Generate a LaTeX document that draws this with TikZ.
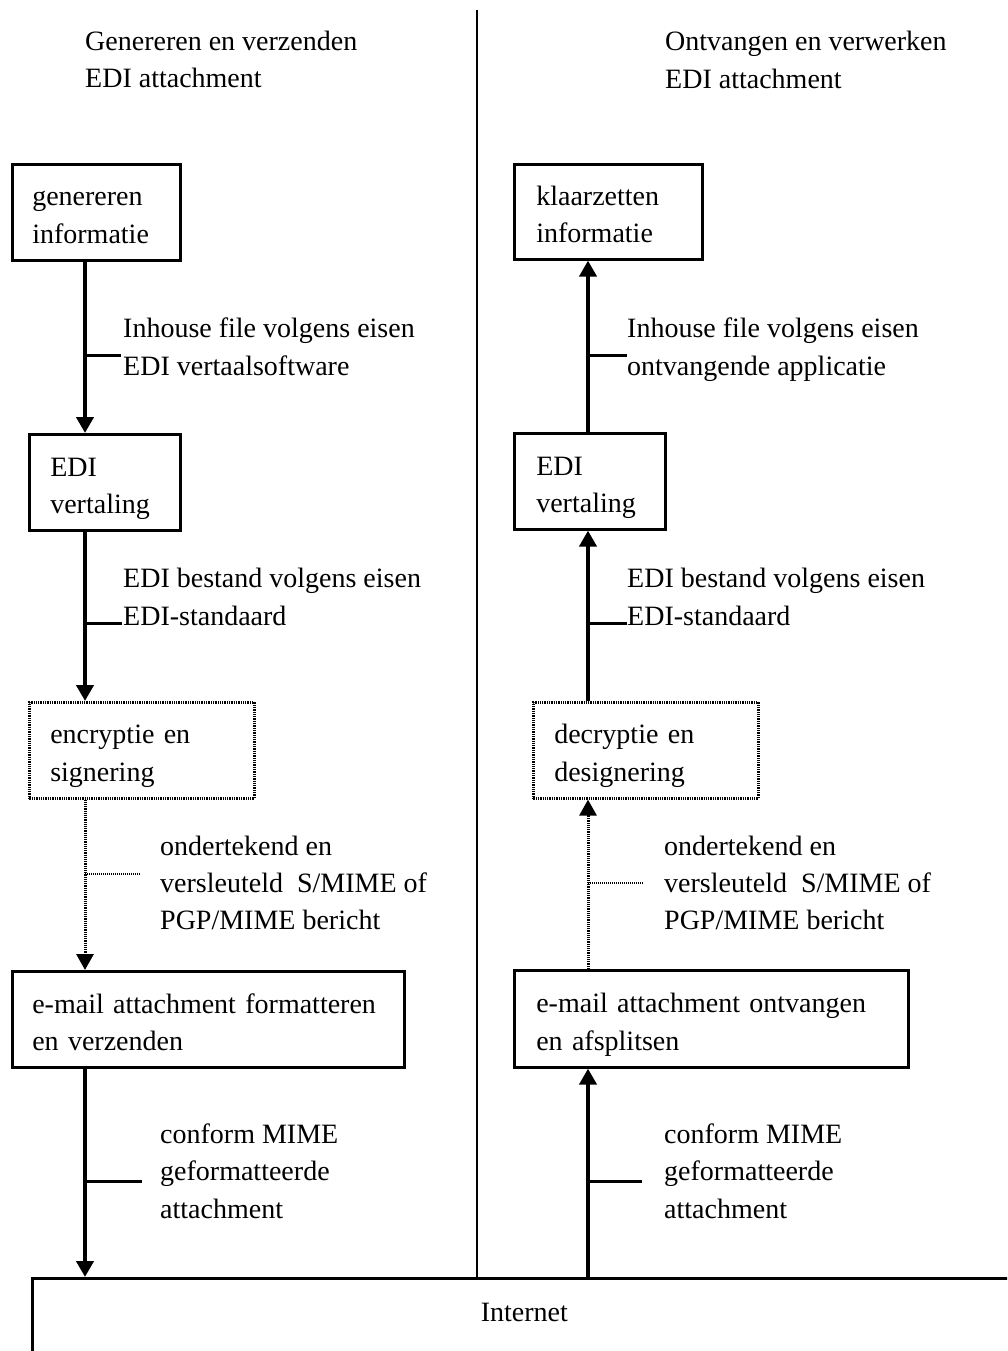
\documentclass[tikz,border=0pt]{standalone}
\usepackage{fontspec}
\setmainfont{Liberation Serif}
\usetikzlibrary{arrows.meta}
% one text line: 31pt above the baseline, 6pt below
\newcommand\lstrut{\rule[-6pt]{0pt}{37pt}}
\tikzset{
  txtfont/.style={font=\fontsize{28pt}{37pt}\selectfont},
  txt/.style={txtfont, inner sep=0pt, align=left, anchor=north west},
  stepbox/.style={txtfont, draw, line width=2.6pt, align=left, anchor=north west,
    inner ysep=0pt, minimum height=96pt},
  dotbox/.style={stepbox, dash pattern=on 1.3pt off 1pt},
  flow/.style={line width=4pt, -{Triangle[width=17pt,length=16pt]}},
  dotflow/.style={line width=3pt, dash pattern=on 1.2pt off 1pt,
    -{Triangle[width=17pt,length=16pt]}},
  leader/.style={line width=3pt},
  dotleader/.style={line width=2pt, dash pattern=on 1pt off 1pt},
}
\begin{document}
\begin{tikzpicture}[x=1pt,y=-1pt]
\useasboundingbox (0,0) rectangle (1007,1351);
\clip (0,0) rectangle (1007,1351);

% column axes of the flow lines and the divider
\coordinate (colL) at (85,0);
\coordinate (colR) at (588,0);
\coordinate (divtop) at (477,10);

% column headings
\node[txt] (headL) at (85,19) {\lstrut Genereren en verzenden\\\lstrut EDI attachment};
\node[txt] (headR) at (665,19) {\lstrut Ontvangen en verwerken\\\lstrut EDI attachment};

% sending side
\node[stepbox, minimum width=168pt, inner xsep=20pt, text width=128pt] (gen) at (11,163)
  {\lstrut genereren\\\lstrut informatie};
\node[stepbox, minimum width=151pt, inner xsep=21pt, text width=109pt] (ediL) at (28,433)
  {\lstrut EDI\\\lstrut vertaling};
\node[dotbox, minimum width=225pt, inner xsep=21pt, text width=183pt] (enc) at (28,701)
  {\lstrut encryptie en\\\lstrut signering};
\node[stepbox, minimum width=392pt, inner xsep=20pt, text width=352pt] (mailL) at (11,970)
  {\lstrut e-mail attachment formatteren\\\lstrut en verzenden};

% receiving side
\node[stepbox, minimum width=188pt, minimum height=95pt, inner xsep=22pt, text width=144pt] (klaar) at (513,163)
  {\lstrut klaarzetten\\\lstrut informatie};
\node[stepbox, minimum width=151pt, inner xsep=22pt, text width=107pt] (ediR) at (513,432)
  {\lstrut EDI\\\lstrut vertaling};
\node[dotbox, minimum width=225pt, inner xsep=21pt, text width=183pt] (dec) at (532,701)
  {\lstrut decryptie en\\\lstrut designering};
\node[stepbox, minimum width=394pt, minimum height=97pt, inner xsep=22pt, text width=350pt] (mailR) at (513,969)
  {\lstrut e-mail attachment ontvangen\\\lstrut en afsplitsen};

% the network, running off the page to the right and bottom
\node[txtfont, draw, line width=2.6pt, anchor=north west, inner sep=0pt,
  minimum width=984pt, text height=43pt, text depth=120pt] (inet) at (31,1277) {Internet};

% divider between the two sides
\draw[line width=1.3pt] (divtop) -- (divtop |- inet.north);

% sending flow
\draw[flow] (gen.south -| colL) -- (ediL.north -| colL);
\draw[flow] (ediL.south -| colL) -- (enc.north -| colL);
\draw[dotflow] (enc.south -| colL) -- (mailL.north -| colL);
\draw[flow] (mailL.south -| colL) -- (inet.north -| colL);

% receiving flow
\draw[flow] (inet.north -| colR) -- (mailR.south -| colR);
\draw[dotflow] (mailR.north -| colR) -- (dec.south -| colR);
\draw[flow] (dec.north -| colR) -- (ediR.south -| colR);
\draw[flow] (ediR.north -| colR) -- (klaar.south -| colR);

% labels of the sending flow
\node[txt] (lab1L) at (123,306) {\lstrut Inhouse file volgens eisen\\\lstrut EDI vertaalsoftware};
\node[txt] (lab2L) at (123,556) {\lstrut EDI bestand volgens eisen\\\lstrut EDI-standaard};
\node[txt] (lab3L) at (160,824) {\lstrut ondertekend en\\\lstrut versleuteld\ \ S/MIME of\\\lstrut PGP/MIME bericht};
\node[txt] (lab4L) at (160,1112) {\lstrut conform MIME\\\lstrut geformatteerde\\\lstrut attachment};

\draw[leader] (colL |- 0,355) -- ([xshift=-2pt]lab1L.west |- 0,355);
\draw[leader] (colL |- 0,623) -- ([xshift=-1pt]lab2L.west |- 0,623);
\draw[dotleader] (colL |- 0,874) -- ++(56,0);
\draw[leader] (colL |- 0,1181) -- ++(57,0);

% labels of the receiving flow
\node[txt] (lab1R) at (627,306) {\lstrut Inhouse file volgens eisen\\\lstrut ontvangende applicatie};
\node[txt] (lab2R) at (627,556) {\lstrut EDI bestand volgens eisen\\\lstrut EDI-standaard};
\node[txt] (lab3R) at (664,824) {\lstrut ondertekend en\\\lstrut versleuteld\ \ S/MIME of\\\lstrut PGP/MIME bericht};
\node[txt] (lab4R) at (664,1112) {\lstrut conform MIME\\\lstrut geformatteerde\\\lstrut attachment};

\draw[leader] (colR |- 0,355) -- (lab1R.west |- 0,355);
\draw[leader] (colR |- 0,623) -- (lab2R.west |- 0,623);
\draw[dotleader] (colR |- 0,883) -- ++(55,0);
\draw[leader] (colR |- 0,1181) -- ++(54,0);
\end{tikzpicture}
\end{document}
